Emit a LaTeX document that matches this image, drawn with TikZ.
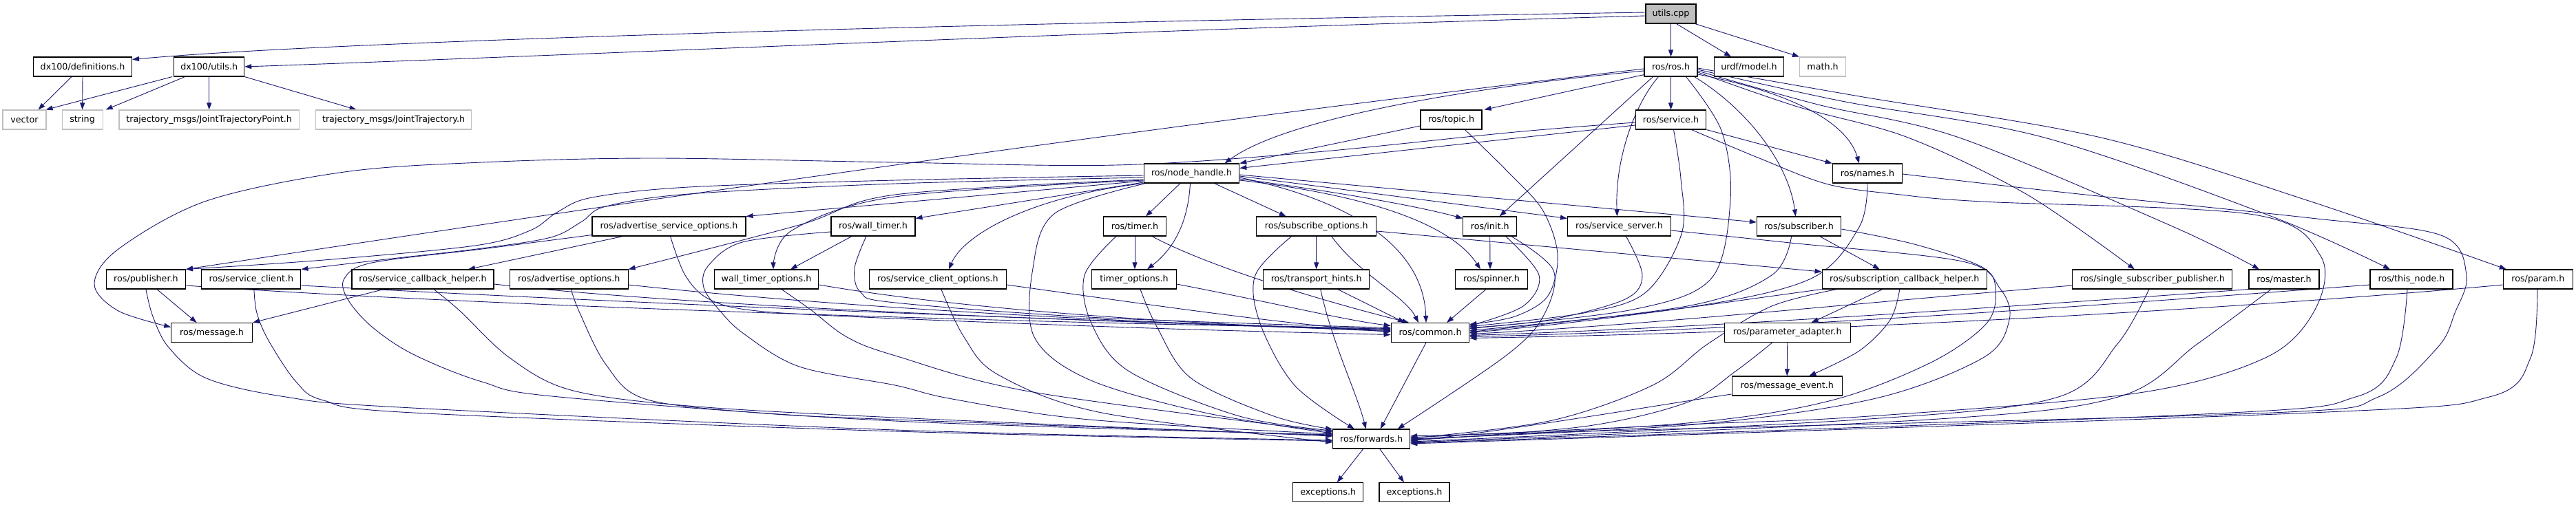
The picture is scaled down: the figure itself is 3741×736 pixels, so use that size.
\documentclass[tikz,border=0pt]{standalone}
\usepackage{fontspec}
\setmainfont{DejaVu Sans}
\usetikzlibrary{arrows.meta}
\definecolor{edgec}{HTML}{191970}
\definecolor{lgray}{HTML}{BFBFBF}
\pgfdeclarelayer{bg}
\pgfsetlayers{bg,main}
\newcommand\myedge[1]{\draw[e] plot[smooth,tension=0.55] coordinates {#1};}
\begin{document}
\begin{tikzpicture}[x=1pt,y=-1pt,
 nd/.style={draw=black,line width=1.1pt,fill=white,minimum height=28pt,inner sep=0pt,font=\fontsize{12.7}{15}\selectfont},
 gnd/.style={nd,draw=lgray},
 e/.style={draw=edgec,line width=0.9pt,-{Triangle[length=10pt,width=7pt]}}]
\useasboundingbox (0,0) rectangle (3741,736);
% row 0
\node[nd,fill=lgray,minimum width=73pt] (utilscpp) at (2426.5,20) {utils.cpp};
% row 1
\node[nd,minimum width=143pt] (defs) at (120,97) {dx100/definitions.h};
\node[nd,minimum width=102pt] (dxutils) at (303.7,97) {dx100/utils.h};
\node[nd,minimum width=77pt] (rosh) at (2426.5,97) {ros/ros.h};
\node[nd,minimum width=101.5pt] (urdf) at (2540,97) {urdf/model.h};
\node[gnd,minimum width=67pt] (math) at (2647,97) {math.h};
% row 2
\node[gnd,minimum width=63pt] (vector) at (35.5,174) {vector};
\node[gnd,minimum width=59pt] (string) at (119.6,174) {string};
\node[gnd,minimum width=261.5pt] (jtp) at (303.7,174) {trajectory\_msgs/JointTrajectoryPoint.h};
\node[gnd,minimum width=226pt] (jt) at (571.6,174) {trajectory\_msgs/JointTrajectory.h};
\node[nd,minimum width=89pt] (topic) at (2107.5,174) {ros/topic.h};
\node[nd,minimum width=102.6pt] (service) at (2426.5,174) {ros/service.h};
% row 3
\node[nd,minimum width=138.5pt] (nh) at (1730.5,252) {ros/node\_handle.h};
\node[nd,minimum width=101.5pt] (names) at (2712,252) {ros/names.h};
% row 4
\node[nd,minimum width=223pt] (aso) at (971.5,329) {ros/advertise\_service\_options.h};
\node[nd,minimum width=122pt] (walltimer) at (1268,329) {ros/wall\_timer.h};
\node[nd,minimum width=91pt] (timer) at (1648,329) {ros/timer.h};
\node[nd,minimum width=174pt] (subopts) at (1911.7,329) {ros/subscribe\_options.h};
\node[nd,minimum width=78pt] (init) at (2163.7,329) {ros/init.h};
\node[nd,minimum width=150pt] (sserver) at (2351.5,329) {ros/service\_server.h};
\node[nd,minimum width=122.6pt] (subscriber) at (2612.6,329) {ros/subscriber.h};
% row 5
\node[nd,minimum width=115pt] (publisher) at (211.9,406) {ros/publisher.h};
\node[nd,minimum width=144pt] (sclient) at (364.9,406) {ros/service\_client.h};
\node[nd,minimum width=206pt] (scbh) at (614,406) {ros/service\_callback\_helper.h};
\node[nd,minimum width=171.6pt] (advopts) at (826.3,406) {ros/advertise\_options.h};
\node[nd,minimum width=151.7pt] (wtopts) at (1113,406) {wall\_timer\_options.h};
\node[nd,minimum width=199pt] (scopts) at (1361.9,406) {ros/service\_client\_options.h};
\node[nd,minimum width=122.7pt] (topts) at (1647,406) {timer\_options.h};
\node[nd,minimum width=154pt] (thints) at (1911.7,406) {ros/transport\_hints.h};
\node[nd,minimum width=104.5pt] (spinner) at (2166,406) {ros/spinner.h};
\node[nd,minimum width=239.5pt] (subcbh) at (2765.8,406) {ros/subscription\_callback\_helper.h};
\node[nd,minimum width=232pt] (ssp) at (3125.9,406) {ros/single\_subscriber\_publisher.h};
\node[nd,minimum width=102pt] (master) at (3317,406) {ros/master.h};
\node[nd,minimum width=120pt] (thisnode) at (3502,406) {ros/this\_node.h};
\node[nd,minimum width=100.4pt] (param) at (3685.8,406) {ros/param.h};
% row 6
\node[nd,minimum width=117.7pt] (message) at (307.6,483.5) {ros/message.h};
\node[nd,minimum width=113.6pt] (common) at (2077,483.5) {ros/common.h};
\node[nd,minimum width=182.8pt] (padapter) at (2595.7,483.5) {ros/parameter\_adapter.h};
% row 7
\node[nd,minimum width=160.5pt] (mevent) at (2595.3,561) {ros/message\_event.h};
% row 8
\node[nd,minimum width=112pt] (forwards) at (1991.7,638) {ros/forwards.h};
% row 9
\node[nd,minimum width=102pt] (exc1) at (1928.7,715.7) {exceptions.h};
\node[nd,minimum width=102pt] (exc2) at (2054,715.7) {exceptions.h};

\begin{pgfonlayer}{bg}
% utils.cpp
\draw[e] ([yshift=2pt]utilscpp.west) .. controls (1500,32) and (500,58) .. ([yshift=-4pt]defs.north east);
\draw[e] ([yshift=-3pt]utilscpp.west) .. controls (1600,45) and (900,78) .. (dxutils.east);
\draw[e] (utilscpp.south) -- (rosh.north);
\draw[e] ([xshift=8pt]utilscpp.south) -- ([xshift=-26pt]urdf.north);
\draw[e] ([xshift=-2pt]utilscpp.south east) -- (math.north west);
% dx100
\draw[e] ([xshift=-16pt]defs.south) -- ([xshift=20pt]vector.north);
\draw[e] (defs.south) -- (string.north);
\draw[e] ([xshift=-2pt]dxutils.south west) -- ([xshift=-1pt]vector.north east);
\draw[e] ([xshift=-35pt]dxutils.south) -- ([xshift=4pt]string.north east);
\draw[e] (dxutils.south) -- (jtp.north);
\draw[e] (dxutils.south east) -- ([xshift=-54pt]jt.north);
% ros.h
\draw[e] ([yshift=3pt]rosh.south west) -- ([xshift=3pt]topic.north east);
\draw[e] ([yshift=-6pt]rosh.west) .. controls (2150,125) and (1870,170) .. ([xshift=48pt]nh.north);
\draw[e] ([yshift=-3pt]rosh.west) .. controls (1680,182) and (980,283) .. (publisher.north east);
\draw[e] (rosh.south) -- (service.north);
\draw[e] ([xshift=-26pt]rosh.south) -- ([xshift=14pt]init.north);
\draw[e] ([xshift=-18pt]rosh.south) .. controls (2375,150) and (2345,230) .. ([xshift=-3pt]sserver.north);
\myedge{([xshift=22pt]rosh.south) (2500,190) (2513,290) (2485,405) (2371,450) ([yshift=6pt]common.east)}
\draw[e] ([xshift=34pt]rosh.south) .. controls (2540,160) and (2598,240) .. ([xshift=-5pt]subscriber.north);
\draw[e] ([yshift=-11pt]rosh.east) .. controls (2580,130) and (2680,170) .. ([xshift=-12pt]names.north);
\myedge{([yshift=-8pt]rosh.east) (2610,155) (2771,200) (2944,283) ([xshift=-26pt]ssp.north)}
\myedge{([yshift=-6pt]rosh.east) (2640,152) (2845,200) (3157,330) ([xshift=-36pt]master.north)}
\myedge{([yshift=-4pt]rosh.east) (2680,148) (2969,200) (3300,315) ([xshift=-31pt]thisnode.north)}
\myedge{([yshift=-2pt]rosh.east) (2700,140) (3051,200) (3356,293) ([xshift=-46pt]param.north)}
% service.h
\draw[e] ([yshift=-8pt]service.west) -- ([yshift=-7pt]nh.north east);
\myedge{([yshift=-4pt]service.west) (2200,192) (1900,222) (1620,240) (1300,236) (950,230) (700,236) (500,250) (300,292) (172,362) (137,413) (172,452) ([yshift=8pt]message.west)}
\draw[e] (service.south east) -- (names.north west);
\myedge{([xshift=4pt]service.south) (2441,260) (2442,340) (2390,425) (2300,455) ([yshift=9pt]common.east)}
\myedge{([xshift=30pt]service.south) (2555,230) (2655,268) (2760,283) (2878,293) (3273,312) (3370,372) (3362,450) (3290,520) (3100,572) (2700,606) (2450,617) ([yshift=2pt]forwards.east)}
% names.h
\myedge{(names.south) (2700,330) (2630,405) (2450,447) ([yshift=3pt]common.east)}
\myedge{([yshift=-1pt]names.east) (3000,280) (3356,317) (3545,342) (3582,400) (3565,455) (3540,505) (3454,577) (3300,600) (2450,623) ([yshift=4pt]forwards.east)}
% topic.h
\draw[e] ([yshift=-9pt]topic.west) -- (nh.north east);
\myedge{([xshift=20pt]topic.south) (2190,250) (2240,305) (2262,370) (2248,430) (2200,460) ([yshift=12pt]common.east)}
% node_handle.h
\myedge{([yshift=-3pt]nh.west) (1300,262) (1000,272) (860,287) (810,308) (770,335) (690,357) (470,378) (publisher.north east)}
\myedge{([yshift=-6pt]nh.west) (1300,267) (1000,282) (880,300) (845,322) (800,345) (700,361) (560,377) (sclient.north east)}
\myedge{([yshift=-9pt]nh.west) (1300,283) (1161,327) (advopts.north east)}
\myedge{([yshift=-10pt]nh.west) (1300,286) (1150,335) ([xshift=10pt]wtopts.north)}
\draw[e] ([yshift=-11pt]nh.west) -- (aso.north east);
\draw[e] ([yshift=-13pt]nh.west) -- ([yshift=-3pt]walltimer.north east);
\draw[e] (nh.south west) .. controls (1500,285) and (1400,340) .. ([xshift=16pt]scopts.north);
\myedge{([xshift=3pt]nh.south west) (1532,310) (1500,390) (1502,490) (1582,552) (1750,600) ([yshift=8pt]forwards.west)}
\draw[e] ([xshift=-16.5pt]nh.south) -- ([xshift=16pt]timer.north);
\draw[e] ([xshift=-2pt]nh.south) .. controls (1725,330) and (1700,365) .. ([xshift=19pt]topts.north);
\draw[e] ([xshift=33pt]nh.south) -- ([xshift=-44pt]subopts.north);
\draw[e] ([yshift=-6pt]nh.east) .. controls (2000,300) and (2068,380) .. ([xshift=-6pt]common.north);
\draw[e] ([yshift=-8pt]nh.east) .. controls (1950,280) and (2060,300) .. ([yshift=-3pt]init.north west);
\draw[e] ([yshift=-10pt]nh.east) .. controls (2000,285) and (2110,330) .. ([xshift=-16pt]spinner.north);
\draw[e] ([yshift=-4pt]nh.east) -- ([yshift=-3pt]sserver.north west);
\draw[e] ([yshift=-2pt]nh.east) -- ([yshift=6pt]subscriber.west);
% advertise_service_options.h
\draw[e] ([xshift=-67pt]aso.south) -- ([xshift=66pt]scbh.north);
\myedge{([yshift=2pt]aso.south west) (700,362) (540,382) (500,405) (505,435) (540,475) (600,515) (700,555) (812,577) (1300,612) ([yshift=6pt]forwards.west)}
\myedge{([xshift=2pt]aso.south) (995,400) (1030,435) (1100,452) (1300,463) (1700,478) ([yshift=-3pt]common.west)}
% publisher.h
\draw[e] ([xshift=16pt]publisher.south) -- ([xshift=-22pt]message.north);
\draw[e] ([yshift=-9pt]publisher.east) .. controls (700,445) and (1500,470) .. ([yshift=6pt]common.west);
\myedge{(publisher.south) (222,460) (245,505) (300,550) (415,577) (580,592) (1300,625) ([yshift=-2pt]forwards.west)}
% service_client.h
\draw[e] ([yshift=-9pt]sclient.east) .. controls (900,440) and (1500,465) .. ([yshift=5pt]common.west);
\myedge{([xshift=4pt]sclient.south) (373,455) (390,495) (430,555) (470,582) (600,600) (1300,627) ([yshift=-3pt]forwards.west)}
% service_callback_helper.h
\draw[e] ([xshift=-57pt]scbh.south) -- (message.north east);
\draw[e] ([yshift=-7pt]scbh.east) .. controls (1000,445) and (1550,467) .. ([yshift=4pt]common.west);
\myedge{([xshift=16pt]scbh.south) (668,452) (740,520) (829,567) (1000,590) (1300,607) ([yshift=4pt]forwards.west)}
% advertise_options.h
\draw[e] ([yshift=-8pt]advopts.east) .. controls (1200,445) and (1600,468) .. ([yshift=3pt]common.west);
\myedge{([xshift=3pt]advopts.south) (842,455) (880,530) (937,580) (1100,600) (1300,610) ([yshift=5pt]forwards.west)}
% wall_timer_options.h
\draw[e] ([yshift=-8pt]wtopts.east) .. controls (1400,450) and (1700,470) .. ([yshift=2pt]common.west);
\myedge{([xshift=22pt]wtopts.south) (1177,450) (1230,490) (1300,517) (1500,570) ([yshift=10pt]forwards.west)}
% wall_timer.h
\draw[e] ([xshift=-31pt]walltimer.south) -- ([xshift=35pt]wtopts.north);
\myedge{([xshift=-10pt]walltimer.south) (1241,390) (1250,425) (1300,440) (1600,462) ([yshift=7pt]common.west)}
\myedge{([yshift=-8pt]walltimer.west) (1078,352) (1028,387) (1022,418) (1044,450) (1080,485) (1161,533) (1300,560) (1383,580) (1582,610) ([yshift=7pt]forwards.west)}
% service_client_options.h
\draw[e] ([yshift=-8pt]scopts.east) .. controls (1650,440) and (1850,470) .. ([yshift=1pt]common.west);
\myedge{([xshift=5pt]scopts.south) (1400,490) (1450,545) (1600,600) ([yshift=-5pt]forwards.west)}
% timer.h
\draw[e] (timer.south) -- ([xshift=1pt]topts.north);
\draw[e] ([xshift=25pt]timer.south) .. controls (1760,390) and (1930,440) .. ([xshift=-31pt]common.north);
\myedge{([xshift=-27pt]timer.south) (1575,400) (1585,470) (1640,540) (1800,605) ([yshift=12pt]forwards.west)}
% timer_options.h
\draw[e] ([yshift=-7pt]topts.east) .. controls (1850,440) and (1950,465) .. ([yshift=10pt]common.west);
\myedge{([xshift=9pt]topts.south) (1680,475) (1730,550) (1850,605) ([yshift=14pt]forwards.west)}
% subscribe_options.h
\draw[e] (subopts.south) -- (thints.north);
\draw[e] ([xshift=22pt]subopts.south) .. controls (1975,400) and (2040,430) .. ([xshift=-17pt]common.north);
\myedge{([xshift=-36pt]subopts.south) (1823,400) (1830,470) (1880,560) ([xshift=-25pt]forwards.north)}
\draw[e] ([yshift=-7pt]subopts.east) -- ([yshift=11pt]subcbh.west);
% transport_hints.h
\draw[e] ([xshift=31pt]thints.south) -- ([xshift=-37pt]common.north);
\draw[e] ([xshift=6pt]thints.south) .. controls (1935,500) and (1970,570) .. ([xshift=-8pt]forwards.north);
% init.h
\draw[e] (init.south) -- ([xshift=-2pt]spinner.north);
\myedge{([xshift=23pt]init.south) (2235,400) (2212,445) ([yshift=10pt]common.east)}
\myedge{([xshift=31pt]init.south) (2256,393) (2241,460) (2187,517) ([xshift=38pt]forwards.north)}
% spinner.h
\draw[e] ([xshift=-8pt]spinner.south) -- ([xshift=24pt]common.north);
% service_server.h
\myedge{([xshift=10pt]sserver.south) (2385,400) (2360,435) (2250,465) ([yshift=7pt]common.east)}
\myedge{([yshift=-6pt]sserver.east) (2600,353) (2850,380) (2905,420) (2918,465) (2880,520) (2720,580) (2450,618) (forwards.east)}
% subscriber.h
\draw[e] ([xshift=30pt]subscriber.south) -- ([xshift=-36pt]subcbh.north);
\myedge{([xshift=-11pt]subscriber.south) (2573,400) (2450,445) ([yshift=1pt]common.east)}
\myedge{([yshift=-4pt]subscriber.east) (2780,355) (2878,388) (2898,420) (2885,470) (2804,527) (2656,583) (2450,615) ([yshift=-1pt]forwards.east)}
% subscription_callback_helper.h
\draw[e] ([xshift=-32pt]subcbh.south) -- ([xshift=35pt]padapter.north);
\myedge{([xshift=-7pt]subcbh.south) (2745,465) (2700,510) ([xshift=32pt]mevent.north)}
\draw[e] (subcbh.south west) .. controls (2500,440) and (2300,470) .. (common.east);
\myedge{([xshift=22pt]subcbh.south west) (2573,445) (2480,500) (2400,560) (2250,612) ([yshift=1pt]forwards.east)}
% parameter_adapter.h
\draw[e] (padapter.south) -- (mevent.north);
\myedge{([xshift=-22pt]padapter.south) (2520,540) (2450,585) (2300,620) ([yshift=-2pt]forwards.east)}
% message_event.h
\draw[e] ([yshift=-12pt]mevent.west) .. controls (2400,590) and (2200,625) .. ([yshift=-3pt]forwards.east);
% single_subscriber_publisher.h
\draw[e] ([yshift=-9pt]ssp.west) .. controls (2700,440) and (2400,472) .. ([yshift=-2pt]common.east);
\myedge{([xshift=-5pt]ssp.south) (3075,500) (2986,578) (2700,610) ([yshift=-4pt]forwards.east)}
% master.h
\draw[e] (master.south west) .. controls (3000,440) and (2500,476) .. ([yshift=-4pt]common.east);
\myedge{([xshift=-19pt]master.south) (3191,500) (3076,577) (2800,610) ([yshift=-5pt]forwards.east)}
% this_node.h
\draw[e] ([yshift=-8pt]thisnode.west) .. controls (3100,440) and (2600,478) .. ([yshift=-6pt]common.east);
\myedge{([xshift=-6pt]thisnode.south) (3480,520) (3421,577) (3200,602) ([yshift=-6pt]forwards.east)}
% param.h
\draw[e] ([yshift=-8pt]param.west) .. controls (3300,445) and (2700,482) .. ([yshift=-8pt]common.east);
\myedge{([xshift=-1pt]param.south) (3675,520) (3615,577) (3356,600) ([yshift=-7pt]forwards.east)}
% common.h, forwards.h
\draw[e] ([xshift=-6pt]common.south) -- ([xshift=13pt]forwards.north);
\draw[e] ([xshift=-12pt]forwards.south) -- ([xshift=13pt]exc1.north);
\draw[e] ([xshift=12pt]forwards.south) -- ([xshift=-15pt]exc2.north);
\end{pgfonlayer}
\end{tikzpicture}
\end{document}
